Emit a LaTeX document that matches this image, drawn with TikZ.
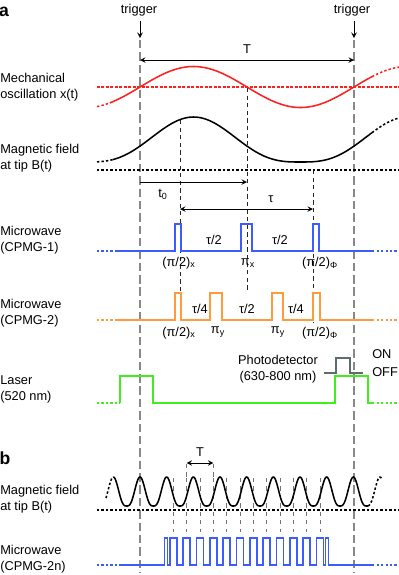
\documentclass[tikz,border=0pt]{standalone}
\usepackage{fontspec}
\setmainfont{Liberation Sans}
\definecolor{sred}{HTML}{FF2020}
\definecolor{sblue}{HTML}{3D5CFF}
\definecolor{sorange}{HTML}{FF9A3D}
\definecolor{sgreen}{HTML}{40EE20}
\definecolor{pdgray}{HTML}{5E6C6C}
\definecolor{trgray}{HTML}{888888}
% field at the tip vs. phase of the cantilever
\pgfmathdeclarefunction{bshape}{1}{\pgfmathparse{(0.5+0.5*sin(#1))*sqrt(abs(0.5+0.5*sin(#1)))}}
\begin{document}
\begin{tikzpicture}[x=0.025cm, y=-0.025cm, >=stealth,
  every node/.style={font=\fontsize{9.1}{11.3}\selectfont, inner sep=0pt},
  lbl/.style={anchor=west, align=left},
  sig/.style={line width=1.1pt},
  dots/.style={line width=1.1pt, dash pattern=on 1.7pt off 1.5pt},
  trig/.style={trgray, line width=0.8pt, dash pattern=on 6pt off 2.8pt},
  guide/.style={black!85, line width=0.45pt, dash pattern=on 3pt off 2.4pt},
  bguide/.style={black!55, line width=0.55pt, dash pattern=on 3pt off 3pt},
  span/.style={line width=0.7pt}]
\useasboundingbox (0,0) rectangle (399,575);

% ---------------- panel a
\node[font=\bfseries\fontsize{12.5}{12.5}\selectfont] (pa) at (4,12) {a};
\node (trigL) at (139,10) {trigger};
\node (trigR) at (352,10) {trigger};
\draw[->, span] (140,21)--(140,38);
\draw[->, span] (354,21)--(354,38);
\draw[trig] (140,40)--(140,573);
\draw[trig] (354,40)--(354,573);

\draw[<->, span] (140,60)--(354,60);
\node (Tlab) at (247,49) {T};

\node[lbl] (mech) at (0,87) {Mechanical\\oscillation x(t)};
\node[lbl] (bfa) at (0,158) {Magnetic field\\at tip B(t)};
\node[lbl] (mw1) at (0,240) {Microwave\\(CPMG-1)};
\node[lbl] (mw2) at (0,313) {Microwave\\(CPMG-2)};
\node[lbl] (las) at (0,389) {Laser\\(520 nm)};

% guide lines
\draw[guide] (180,120)--(180,293);
\draw[guide] (247,88)--(247,293);
\draw[guide] (313,170)--(313,322);

% mechanical oscillation
\draw[sred, line width=1.2pt, dash pattern=on 1.8pt off 1.4pt] (97,87)--(399,87);
\draw[sig, sred] plot[domain=110:372, samples=120] (\x,{87-20.5*sin((\x-140)/214*360)});
\draw[dots, sred] plot[domain=97:110, samples=8] (\x,{87-20.5*sin((\x-140)/214*360)});
\draw[dots, sred] plot[domain=372:399, samples=14] (\x,{87-20.5*sin((\x-140)/214*360)});

% magnetic field
\draw[dots] (97,170)--(399,170);
\draw[sig] plot[domain=113:372, samples=140] (\x,{162-45*bshape((\x-140)/214*360)});
\draw[dots] plot[domain=97:113, samples=8] (\x,{162-45*bshape((\x-140)/214*360)});
\draw[dots] plot[domain=372:399, samples=14] (\x,{162-45*bshape((\x-140)/214*360)});

\draw[->, span] (140,182)--(247,182);
\node (t0) at (163,194) {t\textsubscript{0}};
\draw[<->, span] (180,209)--(313,209);
\node (tau) at (271,199) {τ};

% CPMG-1
\draw[dots, sblue] (97,251)--(115,251);
\draw[sig, sblue] (115,251) foreach \a/\b in {175/181, 241/252, 313/319}
  { -- (\a,251) -- (\a,224) -- (\b,224) -- (\b,251) } -- (372,251);
\draw[dots, sblue] (372,251)--(399,251);
\node (p1a) at (179,263) {(π/2)\textsubscript{x}};
\node (t1a) at (214,240) {τ/2};
\node (p1b) at (248,263) {π\textsubscript{x}};
\node (t1b) at (280,240) {τ/2};
\node (p1c) at (320,263) {(π/2)\textsubscript{Φ}};

% CPMG-2
\draw[dots, sorange] (97,320)--(115,320);
\draw[sig, sorange] (115,320) foreach \a/\b in {175/181, 210/222, 272/283, 313/320}
  { -- (\a,320) -- (\a,293) -- (\b,293) -- (\b,320) } -- (372,320);
\draw[dots, sorange] (372,320)--(399,320);
\node (p2a) at (179,333) {(π/2)\textsubscript{x}};
\node (t2a) at (200,309) {τ/4};
\node (p2b) at (218,332) {π\textsubscript{y}};
\node (t2b) at (247,309) {τ/2};
\node (p2c) at (278,332) {π\textsubscript{y}};
\node (t2c) at (296,309) {τ/4};
\node (p2d) at (320,333) {(π/2)\textsubscript{Φ}};

% laser and detector
\draw[dots, sgreen] (97,403)--(120,403);
\draw[sig, sgreen] (120,403)--(120,376)--(153,376)--(153,403)--(335,403)--(335,376)--(368,376)--(368,403)--(372,403);
\draw[dots, sgreen] (372,403)--(399,403);
\node[align=center] (pd) at (278,369.5) {Photodetector\\(630-800 nm)};
\draw[sig, pdgray] (324,373)--(336,373)--(336,358)--(350,358)--(350,373)--(363,373);
\node[anchor=west] (on) at (372,354) {ON};
\node[anchor=west] (off) at (372,372) {OFF};

% ---------------- panel b
\node[font=\bfseries\fontsize{12.5}{12.5}\selectfont] (pb) at (5,458) {b};
\node[lbl] (bfb) at (0,499.5) {Magnetic field\\at tip B(t)};
\node[lbl] (mwn) at (0,559.5) {Microwave\\(CPMG-2n)};

\foreach \k in {0,...,11}
{
    \draw[bguide] ({173.33+13.333*\k},478)--({173.33+13.333*\k},532);
}
\draw[bguide] (186.67,464)--(186.67,478);
\draw[bguide] (213.33,464)--(213.33,478);
\draw[<->, span] (186.67,463)--(213.33,463);
\node (Tb) at (200,452) {T};

\draw[dots] (97,510)--(399,510);
\draw[sig] plot[domain=113.3:368, samples=400] (\x,{506-29*bshape((\x-140)/26.667*360+90)});
\draw[dots] plot[domain=106:113.3, samples=8] (\x,{506-29*bshape((\x-140)/26.667*360+90)});
\draw[dots] plot[domain=368:382, samples=12] (\x,{506-29*bshape((\x-140)/26.667*360+90)});

\draw[dots, sblue] (97,565)--(120,565);
\draw[sig, sblue, line join=miter] (120,565) -- (164.5,565) -- (164.5,538) -- (167.5,538) -- (167.5,565)
  foreach \k in {0,...,11}
  { -- ({169.83+13.333*\k},565) -- ({169.83+13.333*\k},538) -- ({176.83+13.333*\k},538) -- ({176.83+13.333*\k},565) }
  -- (325.5,565) -- (325.5,538) -- (328.5,538) -- (328.5,565) -- (372,565);
\draw[dots, sblue] (372,565)--(399,565);

\end{tikzpicture}
\end{document}
